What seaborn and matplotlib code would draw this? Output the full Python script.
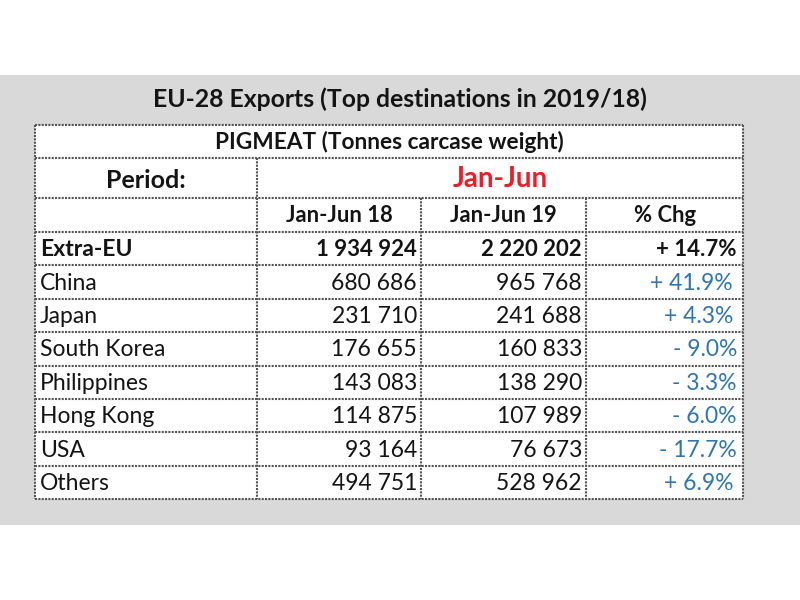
import numpy as np
import matplotlib.pyplot as plt
from matplotlib.patches import Rectangle
import seaborn as sns

# Table data
title = 'EU-28 Exports (Top destinations in 2019/18)'
subtitle = 'PIGMEAT (Tonnes carcase weight)'
period = 'Jan-Jun'
col_headers = ['Jan-Jun 18', 'Jan-Jun 19', '% Chg']
countries = ['Extra-EU', 'China', 'Japan', 'South Korea', 'Philippines',
             'Hong Kong', 'USA', 'Others']
jan_jun_18 = [1934924, 680686, 231710, 176655, 143083, 114875, 93164, 494751]
jan_jun_19 = [2220202, 965768, 241688, 160833, 138290, 107989, 76673, 528962]
pct_chg = [14.7, 41.9, 4.3, -9.0, -3.3, -6.0, -17.7, 6.9]

sns.set_theme(style='white')
plt.rcParams['font.family'] = ['Lato', 'DejaVu Sans']


def fmt_num(v):
    return f'{v:,}'.replace(',', ' ')


def fmt_pct(v):
    sign = '+' if v >= 0 else '-'
    return f'{sign} {abs(v):.1f}%'


fig = plt.figure(figsize=(8, 6), dpi=100)
ax = fig.add_axes([0, 0, 1, 1])
ax.set_xlim(0, 800)
ax.set_ylim(600, 0)
ax.axis('off')

# grey panel
ax.add_patch(Rectangle((0, 75), 800, 450, facecolor='#d9d9d9', edgecolor='none'))

col_edges = [35, 257, 421, 586, 743]
top_edges = [125, 158, 198, 232]
row_h = 33.4
data_edges = [top_edges[-1] + i * row_h for i in range(len(countries) + 1)]
left, right = col_edges[0], col_edges[-1]
bottom = data_edges[-1]

ax.add_patch(Rectangle((left, top_edges[0]), right - left, bottom - top_edges[0],
                       facecolor='white', edgecolor='none'))

line_kw = dict(color='#555555', lw=1.5, ls=(0, (1, 0.6)))
# horizontal lines
for y in top_edges + data_edges[1:]:
    ax.plot([left, right], [y, y], **line_kw)
# vertical borders
ax.plot([left, left], [top_edges[0], bottom], **line_kw)
ax.plot([right, right], [top_edges[0], bottom], **line_kw)
ax.plot([col_edges[1]] * 2, [top_edges[1], bottom], **line_kw)
for x in col_edges[2:4]:
    ax.plot([x, x], [top_edges[2], bottom], **line_kw)

dark = '#141414'
blue = '#2e75b6'

ax.text(400, 99, title, ha='center', va='center', fontsize=17.8,
        fontweight='bold', color=dark)
ax.text((left + right) / 2, 142, subtitle, ha='center', va='center',
        fontsize=16.3, fontweight='bold', color=dark)
ax.text((left + col_edges[1]) / 2, 180, 'Period:', ha='center', va='center',
        fontsize=18, fontweight='bold', color=dark)
ax.text((col_edges[1] + right) / 2, 179, period, ha='center', va='center',
        fontsize=20, fontweight='bold', color='#ee1c25')
for i, h in enumerate(col_headers):
    ax.text((col_edges[i + 1] + col_edges[i + 2]) / 2, 216, h, ha='center',
            va='center', fontsize=15.8, fontweight='bold', color=dark)

for i, c in enumerate(countries):
    yc = (data_edges[i] + data_edges[i + 1]) / 2 + 1
    w = 'bold' if i == 0 else 'normal'
    fs = 16 if i == 0 else 16.5
    ax.text(left + 5, yc, c, ha='left', va='center', fontsize=16.5,
            fontweight=w, color=dark)
    ax.text(col_edges[2] - 4, yc, fmt_num(jan_jun_18[i]), ha='right',
            va='center', fontsize=fs, fontweight=w, color=dark)
    ax.text(col_edges[3] - 4, yc, fmt_num(jan_jun_19[i]), ha='right',
            va='center', fontsize=fs, fontweight=w, color=dark)
    xr = right - 10 if pct_chg[i] >= 0 else right - 6
    if i == 0:
        xr = right - 6
    ax.text(xr, yc, fmt_pct(pct_chg[i]), ha='right', va='center',
            fontsize=fs, fontweight=w, color=dark if i == 0 else blue)

fig.savefig('out.png', dpi=100, facecolor='white')
